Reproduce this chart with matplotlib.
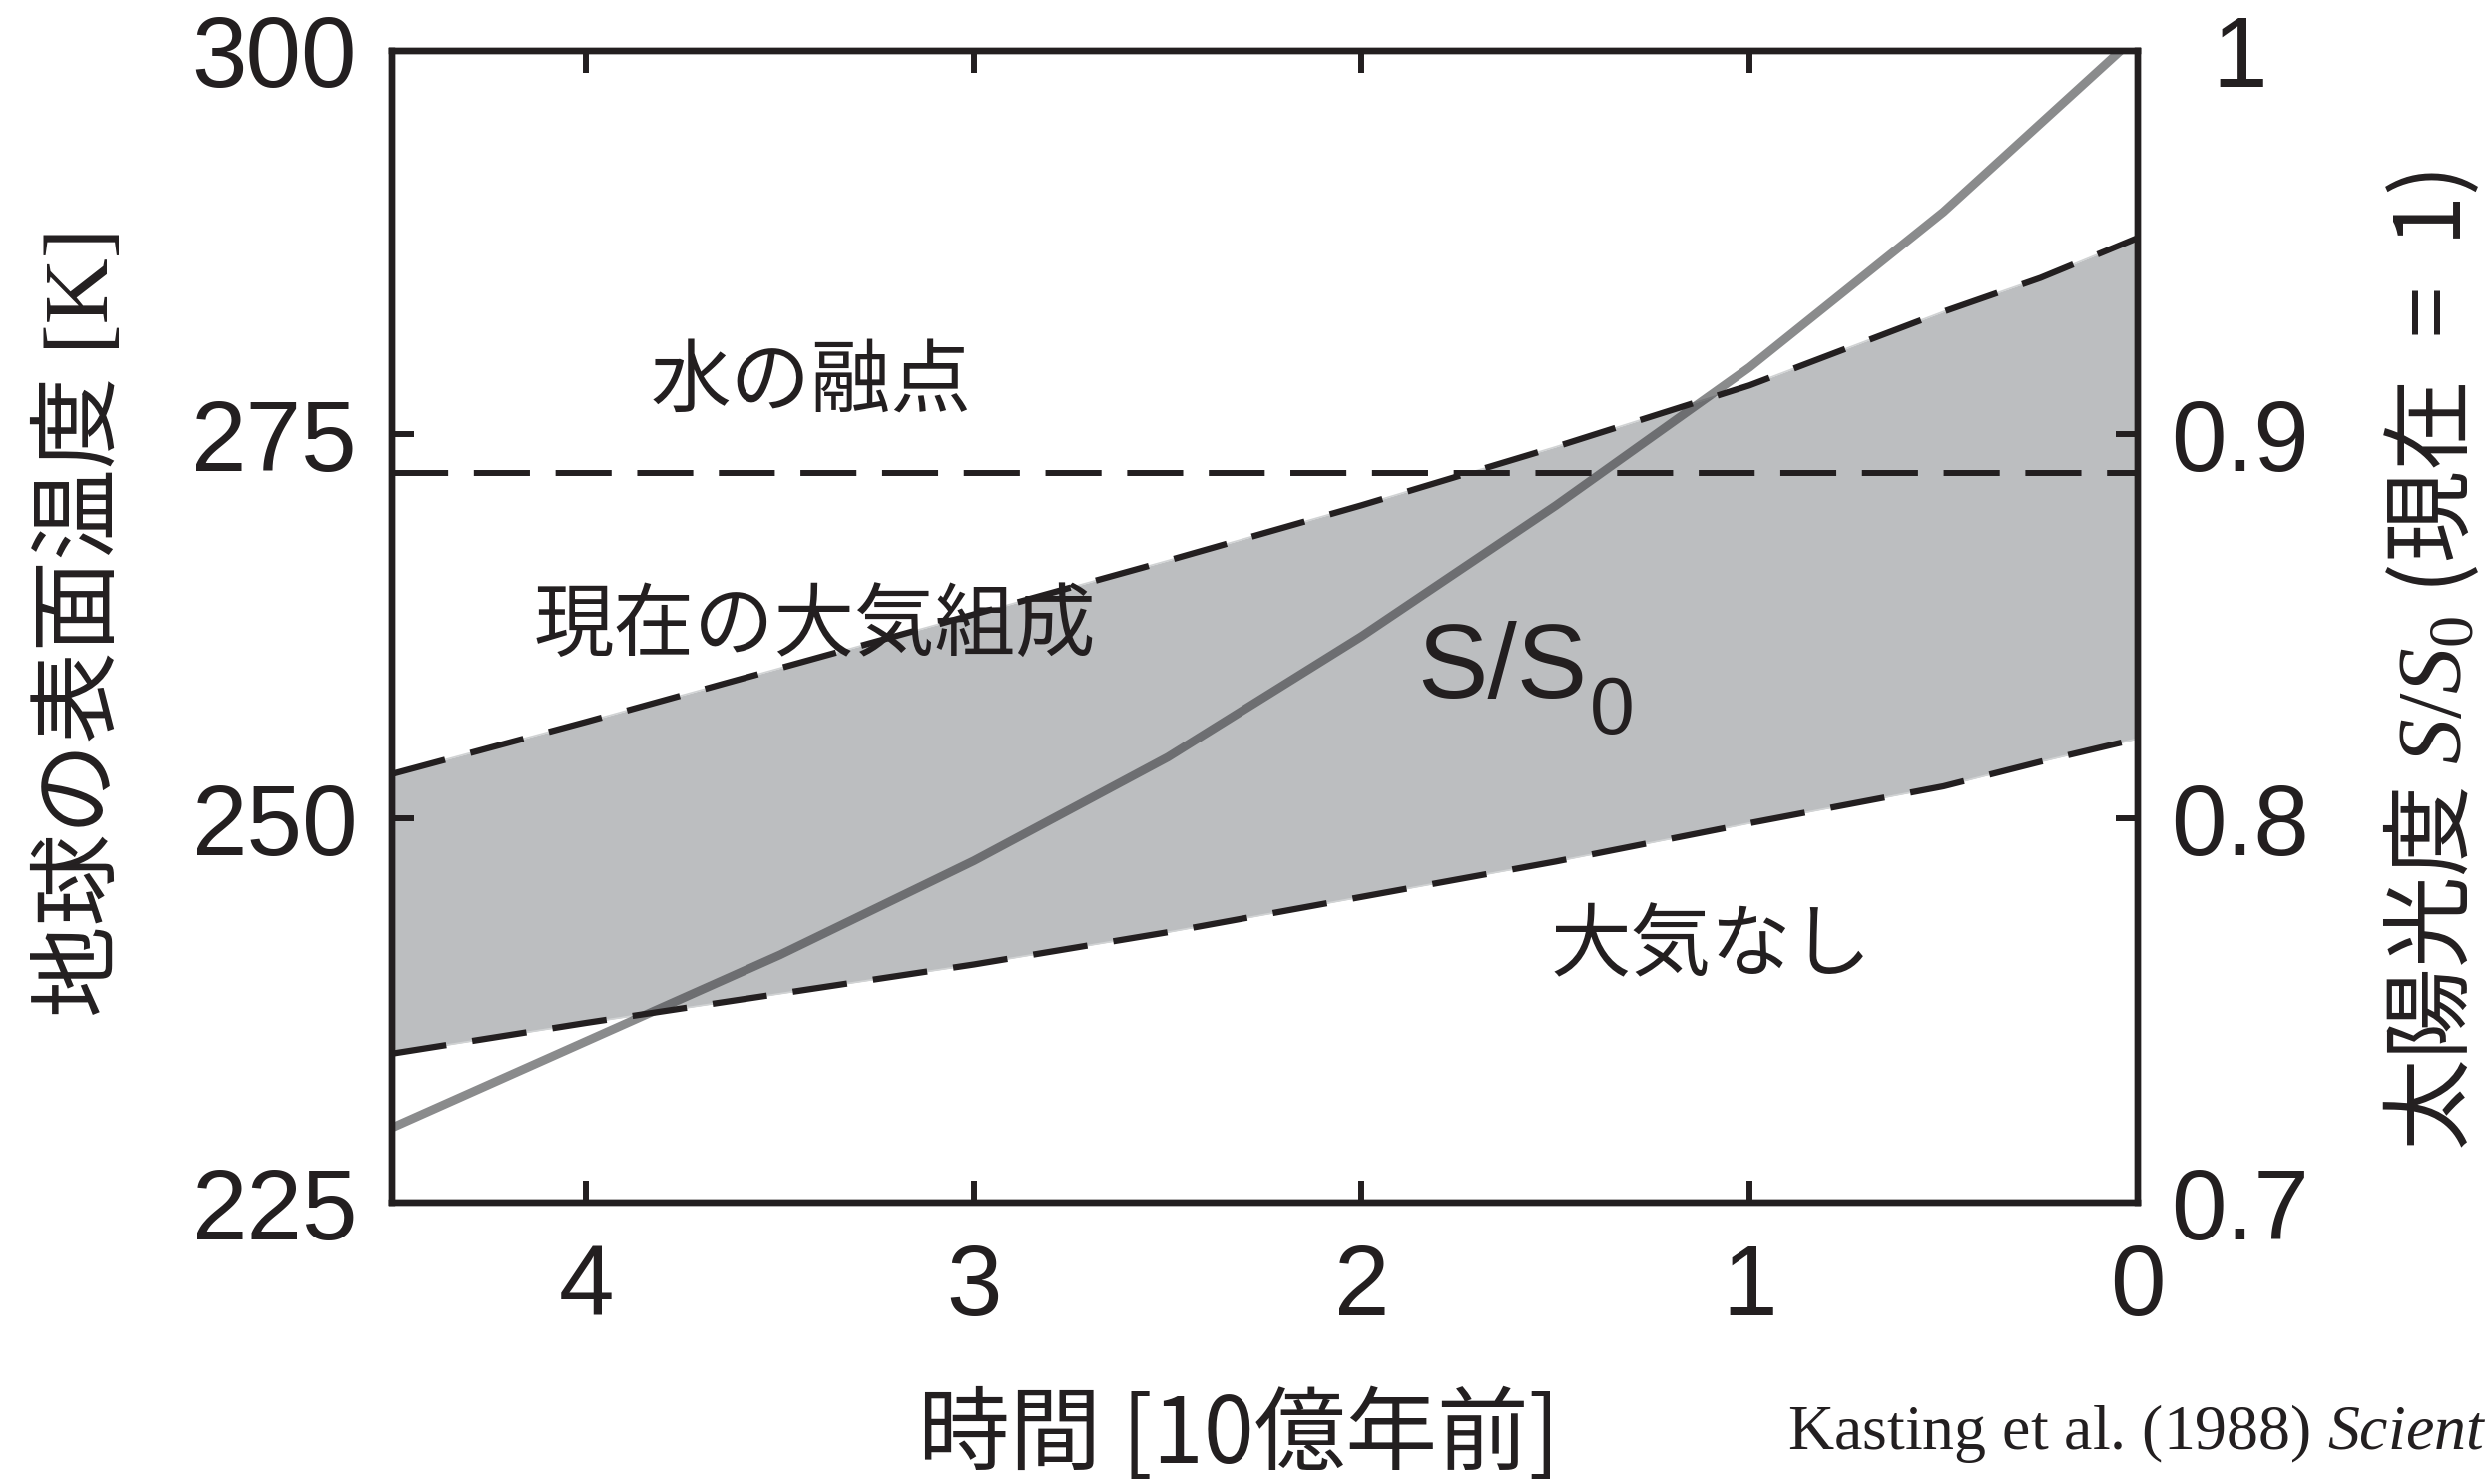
import numpy as np
import matplotlib.pyplot as plt

# time before present [billion years]
time = [4.5, 4.0, 3.5, 3.0, 2.5, 2.0, 1.5, 1.0, 0.5, 0.25, 0.0]
# surface temperature with the present atmosphere [K]
temp_present = [252.9, 256.3, 259.8, 263.3, 266.8, 270.4, 274.2, 278.2, 283.0, 285.2, 287.8]
# surface temperature with no atmosphere [K]
temp_none = [234.7, 236.7, 238.6, 240.5, 242.6, 244.9, 247.2, 249.7, 252.1, 253.7, 255.2]
# solar luminosity relative to today
solar = [0.7195, 0.742, 0.7645, 0.789, 0.816, 0.8475, 0.8815, 0.9175, 0.958, 0.981, 1.004]
# melting point of water [K]
melting_point = 272.5

x_ticks = [4, 3, 2, 1, 0]
t_ticks = [225, 250, 275, 300]
s_ticks = [0.7, 0.8, 0.9, 1.0]
s_labels = ['0.7', '0.8', '0.9', '1']

plt.rcParams['font.family'] = ['Liberation Sans', 'Noto Sans CJK JP']
plt.rcParams['mathtext.fontset'] = 'custom'
plt.rcParams['mathtext.rm'] = 'Liberation Serif'
plt.rcParams['mathtext.it'] = 'Liberation Serif:italic'

ink = '#231F20'
band = '#BCBEC0'

fig = plt.figure(figsize=(24.9, 14.87), dpi=100)
ax = fig.add_axes([0.1578, 0.1896, 0.7023, 0.7763])
ax2 = ax.twinx()
ax.set_xlim(4.5, 0)
ax.set_ylim(225, 300)
ax2.set_ylim(0.7, 1.0)

# range of surface temperature between no atmosphere and today's atmosphere
ax.fill_between(time, temp_none, temp_present, color=band, lw=0, zorder=1)
for T in (temp_present, temp_none):
    ax.plot(time, T, color='#D1D3D4', lw=1.2, zorder=2)
    ax.plot(time, T, color=ink, lw=4.5, dashes=(8.8, 4.2), zorder=4)

# solar luminosity curve uses the right axis scale
ax.plot(time, solar, transform=ax2.transData, color='#2F3033', alpha=0.56,
        lw=6.3, zorder=3, solid_joinstyle='round')

ax.axhline(melting_point, color=ink, lw=4.3, dashes=(9.4, 4.3), zorder=4)

# axes styling
ax.set_xticks(x_ticks)
ax.set_xticklabels([str(v) for v in x_ticks])
ax.set_yticks(t_ticks)
ax2.set_yticks(s_ticks)
ax2.set_yticklabels(s_labels)
ax.tick_params(axis='both', direction='in', length=16, width=4.3, color=ink,
               labelsize=72, labelcolor=ink)
ax.tick_params(axis='x', top=True, pad=29)
ax.tick_params(axis='y', right=False, pad=25)
ax2.tick_params(axis='y', direction='in', length=16, width=4.3, color=ink,
                labelsize=72, labelcolor=ink, pad=74)
plt.setp(ax2.get_yticklabels(), ha='center')
for a in (ax, ax2):
    for s in a.spines.values():
        s.set_linewidth(4.6)
        s.set_color(ink)

# labels inside the plot
lab = dict(fontsize=58, color=ink, ha='center', va='center', family='Noto Sans CJK JP')
ax.text(3.42, 278.4, '水の融点', **lab)
ax.text(3.41, 262.55, '現在の大気組成', **lab)
ax.text(1.10, 241.6, '大気なし', **lab)
ax.text(1.857, 257.88, 'S/S', fontsize=76, color=ink, ha='left', va='baseline',
        family='Liberation Sans')
ax.text(1.412, 255.54, '0', fontsize=58, color=ink, ha='left', va='baseline',
        family='Liberation Sans')

# axis titles
fig.text(82 / 2490, 1 - 623 / 1487, '地球の表面温度 [K]', rotation=90, fontsize=66,
         color=ink, ha='center', va='center', family=['Liberation Serif', 'Noto Sans CJK JP'])
fig.text(2437 / 2490, 1 - 662 / 1487, '太陽光度 $S/S_0$ (現在  =  1)', rotation=90,
         fontsize=66, color=ink, ha='center', va='center', family='Noto Sans CJK JP')
fig.text(1241 / 2490, 1 - 1440 / 1487, '時間 [10億年前]', fontsize=66, color=ink,
         ha='center', va='center', family='Noto Sans CJK JP')

fig.text(1791 / 2490, 1 - 1452 / 1487, r'Kasting et al. (1988) $\mathit{Scientific\ American}$',
         fontsize=46, color=ink, ha='left', va='baseline', family='Liberation Serif')

fig.savefig('out.png', dpi=100)
